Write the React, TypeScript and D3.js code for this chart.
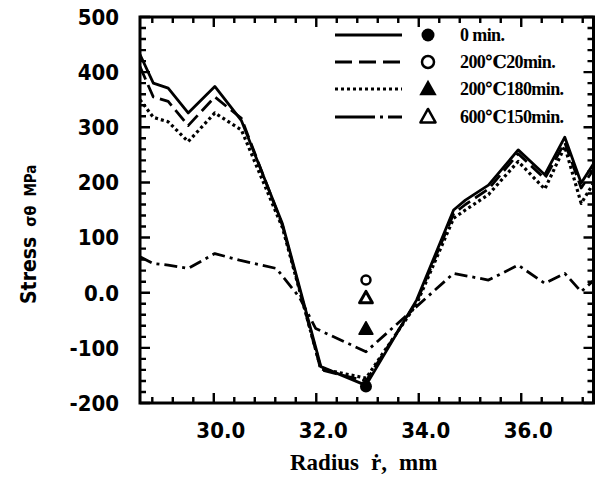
import React from "react";
import * as d3 from "d3";

const W = 596;
const H = 479;

// radius positions (mm) of the measured points
const radius = [28.56, 28.82, 29.11, 29.5, 30.02, 30.54, 31.34, 32.09, 32.97, 33.96, 34.68, 34.91, 35.36, 35.94, 36.46, 36.85, 37.17, 37.42];
const stress0min = [432, 380, 371, 326, 374, 312, 125, -134, -168, -13, 150, 168, 195, 259, 214, 282, 199, 235];
const stress200c20 = [410, 355, 347, 303, 355, 316, 122, -140, -160, -16, 143, 160, 188, 252, 207, 272, 190, 225];
const stress200c180 = [350, 318, 310, 274, 326, 295, 118, -138, -155, -20, 135, 150, 178, 238, 188, 265, 162, 200];

const radius600 = [28.56, 28.82, 29.11, 29.5, 30.02, 30.5, 31.22, 31.67, 31.99, 32.97, 34.68, 35.36, 35.94, 36.46, 36.85, 37.17, 37.42];
const stress600c150 = [65, 53, 50, 44, 71, 59, 44, -8, -65, -107, 35, 23, 50, 17, 35, 2, 23];

// isolated markers at r = 32.97
const markerR = 32.97;
const marker0min = -170;
const marker200c20 = 23;
const marker600c150 = -10;
const marker200c180 = -66;

const yTicks = [500, 400, 300, 200, 100, 0, -100, -200];
const yTickLabels = ["500", "400", "300", "200", "100", "0.0", "-100", "-200"];
const xTicks = [30, 32, 34, 36];
const xTickLabels = ["30.0", "32.0", "34.0", "36.0"];

const legendLabels = ["0 min.", "200℃20min.", "200℃180min.", "600℃150min."];

const L = 140, R = 593.5, T = 17, B = 403;

export default function App() {
  const x = d3.scaleLinear().domain([28.56, 37.42]).range([L, R + 0.5]);
  const y = d3.scaleLinear().domain([-200, 500]).range([B, T]);

  const line = d3.line<[number, number]>().x((d) => x(d[0])).y((d) => y(d[1]));
  const mk = (xs: number[], ys: number[]) => line(xs.map((v, i) => [v, ys[i]] as [number, number])) || "";

  const xMinor: number[] = d3.range(0, 23).map((i) => 28.8 + i * 0.4).filter((v) => v <= 37.4);
  const yMinor: number[] = d3.range(-200, 501, 20);

  const tickLabelFont = "'DejaVu Sans Condensed', 'DejaVu Sans', sans-serif";
  const serif = "'Liberation Serif', 'DejaVu Serif', serif";

  const series = [
    { d: mk(radius, stress0min), dash: "none", w: 2.8 },
    { d: mk(radius, stress200c20), dash: "14,6", w: 2.8 },
    { d: mk(radius, stress200c180), dash: "3,3", w: 3.2 },
    { d: mk(radius600, stress600c150), dash: "13,5,3,5", w: 2.8 },
  ];

  const tri = (cx: number, cy: number, s: number) =>
    `M${cx},${cy - s * 0.62} L${cx + s * 0.58},${cy + s * 0.42} L${cx - s * 0.58},${cy + s * 0.42} Z`;

  const legendY = [35, 62, 89, 117];
  const legendDash = ["none", "17,7", "3,3", "40,5,3,5"];

  // tick marks built from the scales
  let tickPath = "";
  xMinor.forEach((v) => {
    const major = xTicks.some((t) => Math.abs(t - v) < 1e-6);
    const len = major ? 10 : 6;
    const px = x(v);
    tickPath += `M${px},${B}V${B - len}M${px},${T}V${T + len}`;
  });
  yMinor.forEach((v) => {
    const major = v % 100 === 0;
    const len = major ? 10 : 6;
    const py = y(v);
    tickPath += `M${L},${py}H${L + len}M${R},${py}H${R - len}`;
  });

  return (
    <svg width={W} height={H} style={{ position: "absolute", left: 0, top: 0, display: "block", background: "#fff" }}>
      <defs>
        <clipPath id="plot">
          <rect x={L} y={T} width={R - L} height={B - T} />
        </clipPath>
      </defs>

      {/* frame */}
      <rect x={L} y={T} width={R - L} height={B - T} fill="none" stroke="#000" strokeWidth={3} />

      {/* ticks */}
      <path d={tickPath} fill="none" stroke="#000" strokeWidth={2.4} />

      {/* lines */}
      <g clipPath="url(#plot)" fill="none" stroke="#000" strokeLinejoin="round">
        {series.map((s, i) => (
          <path key={i} d={s.d} strokeWidth={s.w} strokeDasharray={s.dash === "none" ? undefined : s.dash} />
        ))}
      </g>

      {/* isolated markers */}
      <circle cx={x(markerR)} cy={y(marker0min)} r={6} fill="#000" />
      <circle cx={x(markerR)} cy={y(marker200c20)} r={4.5} fill="#fff" stroke="#000" strokeWidth={2.5} />
      <path d={tri(x(markerR), y(marker600c150), 11)} fill="#fff" stroke="#000" strokeWidth={3} strokeLinejoin="round" />
      <path d={tri(x(markerR), y(marker200c180), 12)} fill="#000" stroke="#000" strokeWidth={1.5} strokeLinejoin="round" />

      {/* y tick labels */}
      {yTicks.map((v, i) => (
        <text key={"yl" + i} x={119} y={y(v)} dy="0.36em" textAnchor="end" fontFamily={tickLabelFont} fontWeight="bold" fontSize={22} fill="#000">
          {yTickLabels[i]}
        </text>
      ))}

      {/* x tick labels */}
      {xTicks.map((v, i) => (
        <text key={"xl" + i} x={x(v) + 7} y={438} textAnchor="middle" fontFamily={tickLabelFont} fontWeight="bold" fontSize={22} fill="#000">
          {xTickLabels[i]}
        </text>
      ))}

      {/* x axis title */}
      <text x={290} y={470} fontFamily={serif} fontWeight="bold" fontSize={23} fill="#000">
        <tspan>Radius</tspan>
        <tspan dx={12}>ṙ,</tspan>
        <tspan dx={12}>mm</tspan>
      </text>

      {/* y axis title */}
      <text transform="translate(36,304) rotate(-90)" fontFamily={tickLabelFont} fontWeight="bold" fill="#000">
        <tspan fontSize={21}>Stress</tspan>
        <tspan dx={10} fontSize={16}>σθ</tspan>
        <tspan dx={9} fontSize={15}>MPa</tspan>
      </text>

      {/* legend */}
      {legendLabels.map((lab, i) => {
        const ly = legendY[i];
        const cx = 428;
        return (
          <g key={"lg" + i}>
            <line x1={335} x2={402} y1={ly} y2={ly} stroke="#000" strokeWidth={2.8} strokeDasharray={legendDash[i] === "none" ? undefined : legendDash[i]} />
            {i === 0 && <circle cx={cx} cy={ly} r={6.5} fill="#000" />}
            {i === 1 && <circle cx={cx} cy={ly} r={6} fill="#fff" stroke="#000" strokeWidth={2.5} />}
            {i === 2 && <path d={tri(cx, ly, 15)} fill="#000" />}
            {i === 3 && <path d={tri(cx, ly, 13)} fill="#fff" stroke="#000" strokeWidth={2.5} strokeLinejoin="round" />}
            <text x={460} y={ly + 6} fontFamily={serif} fontWeight="bold" fontSize={18} letterSpacing={-0.6} fill="#000">
              {lab}
            </text>
          </g>
        );
      })}
    </svg>
  );
}
